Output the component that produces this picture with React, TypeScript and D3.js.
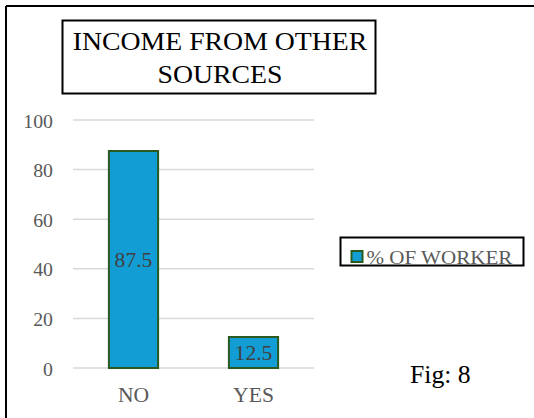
import React from "react";
import * as d3 from "d3";

const categories = ["NO", "YES"];
const values = [87.5, 12.5];
const yTicks = [0, 20, 40, 60, 80, 100];
const titleLines = ["INCOME FROM OTHER", "SOURCES"];
const legendLabel = "% OF WORKER";
const figLabel = "Fig: 8";

const W = 534;
const H = 418;
const FONT = "Liberation Serif, Times New Roman, serif";
const SX = 1.08;

function T(props: {
  x: number;
  y: number;
  size: number;
  fill: string;
  anchor?: string;
  sx?: number;
  children: React.ReactNode;
}) {
  const { x, y, size, fill, anchor = "start", sx = SX, children } = props;
  return (
    <text
      transform={`translate(${x},${y}) scale(${sx},1)`}
      textAnchor={anchor}
      fontFamily={FONT}
      fontSize={size}
      fill={fill}
    >
      {children}
    </text>
  );
}

export default function App() {
  const x = d3.scaleBand<string>().domain(categories).range([73.5, 313.5]).paddingInner(0.59).paddingOuter(0.295);
  const y = d3.scaleLinear().domain([0, 100]).range([368, 120]);
  const bw = x.bandwidth();
  return (
    <svg width={W} height={H} style={{ position: "absolute", left: 0, top: 0, background: "#fff" }}>
      <rect x={0} y={0} width={W} height={H} fill="#fff" />
      <line x1={6} y1={6} x2={W} y2={6} stroke="#000" strokeWidth={2} />
      <line x1={6} y1={6} x2={6} y2={H} stroke="#000" strokeWidth={2} />
      {/* title */}
      <rect x={62.5} y={20.5} width={313} height={73} fill="#fff" stroke="#000" strokeWidth={2} />
      {titleLines.map((t, i) => (
        <T key={t} x={220} y={50 + i * 33} anchor="middle" size={25.7} fill="#000">
          {t}
        </T>
      ))}
      {/* grid */}
      {yTicks.map((t) => (
        <g key={t}>
          <line x1={73} x2={314} y1={y(t)} y2={y(t)} stroke="#d9d9d9" strokeWidth={1.5} />
          <T x={53} y={y(t) + 7.5} anchor="end" size={19} sx={1.04} fill="#595959">
            {t}
          </T>
        </g>
      ))}
      {/* bars */}
      {categories.map((c, i) => (
        <g key={c}>
          <rect
            x={x(c)!}
            y={y(values[i])}
            width={bw}
            height={y(0) - y(values[i])}
            fill="#139dd5"
            stroke="#2a5a1f"
            strokeWidth={2}
          />
          <T x={x(c)! + bw / 2} y={(y(values[i]) + y(0)) / 2 + 7} anchor="middle" size={20} fill="#404040">
            {values[i]}
          </T>
          <T x={x(c)! + bw / 2} y={401.5} anchor="middle" size={20} fill="#595959">
            {c}
          </T>
        </g>
      ))}
      {/* legend */}
      <rect x={340.5} y={237.5} width={183} height={28} fill="#fff" stroke="#000" strokeWidth={2} />
      <rect x={351.5} y={251} width={11} height={11} fill="#139dd5" stroke="#2a5a1f" strokeWidth={2} />
      <T x={366.5} y={263.5} size={19.5} fill="#595959">
        {legendLabel}
      </T>
      <T x={410} y={383} size={25.7} sx={1} fill="#000">
        {figLabel}
      </T>
    </svg>
  );
}
